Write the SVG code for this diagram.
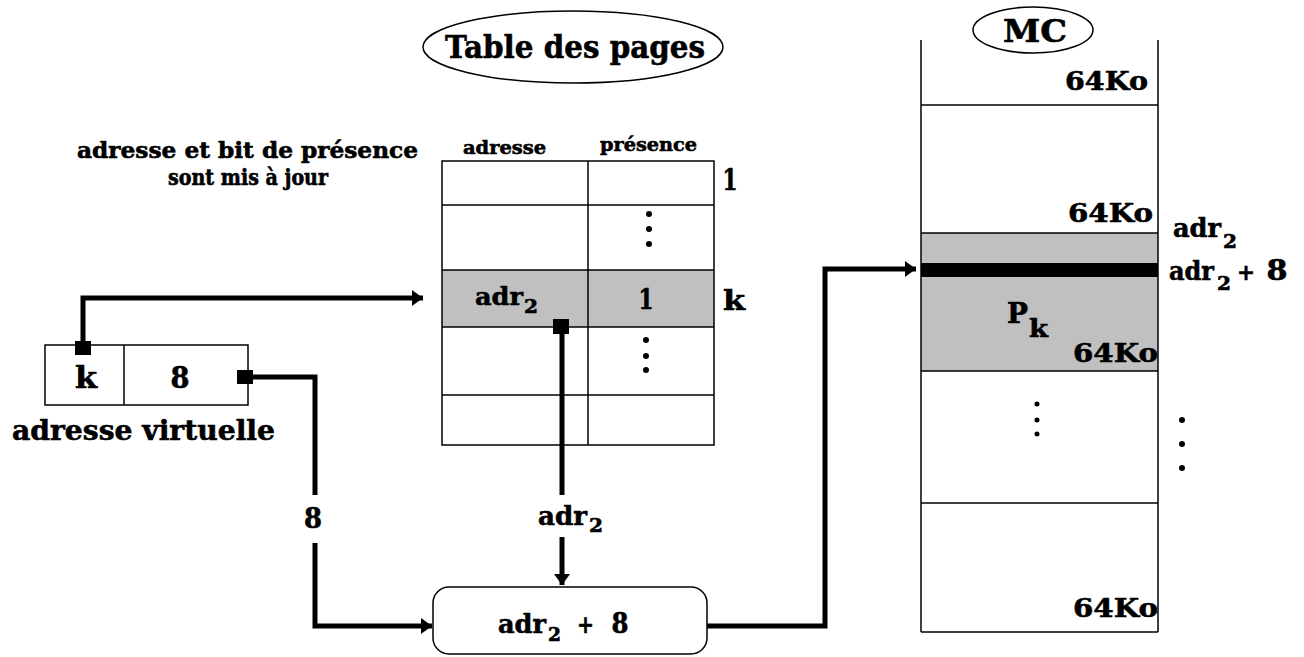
<svg xmlns="http://www.w3.org/2000/svg" width="1304" height="657" viewBox="0 0 1304 657">
<style>
text{font-family:"DejaVu Serif","Liberation Serif",serif;font-weight:bold;fill:#000;stroke:#000;stroke-width:0.6}
.thin{fill:none;stroke:#000;stroke-width:1.5}
.grey{fill:#c0c0c0}
.conn{fill:none;stroke:#000;stroke-width:5}
.dot{fill:#000}
</style>
<defs>
<marker id="arr" markerUnits="userSpaceOnUse" markerWidth="12" markerHeight="18" refX="11" refY="9" orient="auto">
<path d="M0,1 L11,9 L0,17 Z" fill="#000"/>
</marker>
</defs>
<rect width="1304" height="657" fill="#fff"/>

<g id="title-table">
<ellipse cx="573" cy="47" rx="150" ry="36" class="thin"/>
<text x="445" y="58" font-size="32" textLength="260" lengthAdjust="spacingAndGlyphs">Table des pages</text>
</g>

<g id="note">
<text x="77" y="158" font-size="22" textLength="341" lengthAdjust="spacingAndGlyphs">adresse et bit de présence</text>
<text x="168" y="185" font-size="22" textLength="160" lengthAdjust="spacingAndGlyphs">sont mis à jour</text>
</g>

<g id="page-table">
<text x="463" y="154" font-size="19" textLength="83" lengthAdjust="spacingAndGlyphs">adresse</text>
<text x="600" y="151" font-size="19" textLength="97" lengthAdjust="spacingAndGlyphs">présence</text>
<rect x="442" y="270" width="272" height="57" class="grey"/>
<rect x="442" y="161" width="272" height="284" class="thin"/>
<line x1="588" y1="161" x2="588" y2="445" class="thin"/>
<line x1="442" y1="205" x2="714" y2="205" class="thin"/>
<line x1="442" y1="270" x2="714" y2="270" class="thin"/>
<line x1="442" y1="327" x2="714" y2="327" class="thin"/>
<line x1="442" y1="395" x2="714" y2="395" class="thin"/>
<circle cx="649" cy="214" r="3" class="dot"/>
<circle cx="649" cy="229" r="3" class="dot"/>
<circle cx="649" cy="244" r="3" class="dot"/>
<circle cx="646" cy="340" r="3" class="dot"/>
<circle cx="646" cy="356" r="3" class="dot"/>
<circle cx="646" cy="370" r="3" class="dot"/>
<text x="475" y="305" font-size="25" textLength="48" lengthAdjust="spacingAndGlyphs">adr</text>
<text x="524" y="313" font-size="18" textLength="14" lengthAdjust="spacingAndGlyphs">2</text>
<text x="646" y="309" font-size="28" text-anchor="middle" textLength="15" lengthAdjust="spacingAndGlyphs">1</text>
<text x="730" y="190" font-size="29" text-anchor="middle" textLength="15" lengthAdjust="spacingAndGlyphs">1</text>
<text x="723" y="310" font-size="28" textLength="22" lengthAdjust="spacingAndGlyphs">k</text>
</g>

<g id="virtual-address">
<rect x="45" y="345" width="203" height="60" class="thin"/>
<line x1="124" y1="345" x2="124" y2="405" class="thin"/>
<text x="86" y="388" font-size="29" text-anchor="middle" textLength="22" lengthAdjust="spacingAndGlyphs">k</text>
<text x="180" y="388" font-size="29" text-anchor="middle" textLength="19" lengthAdjust="spacingAndGlyphs">8</text>
<text x="12" y="440" font-size="28" textLength="263" lengthAdjust="spacingAndGlyphs">adresse virtuelle</text>
</g>

<g id="adder">
<rect x="433" y="587" width="274" height="67" rx="16" class="thin"/>
<text x="498" y="633" font-size="26" textLength="48" lengthAdjust="spacingAndGlyphs">adr</text>
<text x="548" y="641" font-size="19" textLength="13" lengthAdjust="spacingAndGlyphs">2</text>
<text x="577" y="633" font-size="24" textLength="17" lengthAdjust="spacingAndGlyphs">+</text>
<text x="620" y="633" font-size="28" text-anchor="middle" textLength="17" lengthAdjust="spacingAndGlyphs">8</text>
</g>

<g id="memory">
<ellipse cx="1033" cy="30" rx="60" ry="23" class="thin"/>
<text x="1003" y="42" font-size="32" textLength="64" lengthAdjust="spacingAndGlyphs">MC</text>
<rect x="921" y="233" width="237" height="138" class="grey"/>
<rect x="921" y="263" width="237" height="14" fill="#000"/>
<line x1="921" y1="40" x2="921" y2="632" class="thin"/>
<line x1="1158" y1="40" x2="1158" y2="632" class="thin"/>
<line x1="921" y1="105" x2="1158" y2="105" class="thin"/>
<line x1="921" y1="233" x2="1158" y2="233" class="thin"/>
<line x1="921" y1="371" x2="1158" y2="371" class="thin"/>
<line x1="921" y1="503" x2="1158" y2="503" class="thin"/>
<line x1="921" y1="632" x2="1158" y2="632" class="thin"/>
<text x="1065" y="90" font-size="26" textLength="83" lengthAdjust="spacingAndGlyphs">64Ko</text>
<text x="1068" y="222" font-size="26" textLength="85" lengthAdjust="spacingAndGlyphs">64Ko</text>
<text x="1073" y="362" font-size="26" textLength="85" lengthAdjust="spacingAndGlyphs">64Ko</text>
<text x="1073" y="617" font-size="26" textLength="85" lengthAdjust="spacingAndGlyphs">64Ko</text>
<text x="1007" y="323" font-size="28" textLength="21" lengthAdjust="spacingAndGlyphs">P</text>
<text x="1029" y="337" font-size="25" textLength="19" lengthAdjust="spacingAndGlyphs">k</text>
<circle cx="1037" cy="404" r="2.5" class="dot"/>
<circle cx="1037" cy="420" r="2.5" class="dot"/>
<circle cx="1037" cy="434" r="2.5" class="dot"/>
<circle cx="1182" cy="420" r="3" class="dot"/>
<circle cx="1182" cy="444" r="3" class="dot"/>
<circle cx="1182" cy="468" r="3" class="dot"/>
<text x="1173" y="237" font-size="26" textLength="48" lengthAdjust="spacingAndGlyphs">adr</text>
<text x="1223" y="248" font-size="19" textLength="14" lengthAdjust="spacingAndGlyphs">2</text>
<text x="1169" y="280" font-size="26" textLength="45" lengthAdjust="spacingAndGlyphs">adr</text>
<text x="1217" y="290" font-size="19" textLength="14" lengthAdjust="spacingAndGlyphs">2</text>
<text x="1237" y="280" font-size="22" textLength="18" lengthAdjust="spacingAndGlyphs">+</text>
<text x="1277" y="280" font-size="27" text-anchor="middle" textLength="21" lengthAdjust="spacingAndGlyphs">8</text>
</g>

<g id="connectors">
<rect x="75" y="341" width="16" height="14" fill="#000"/>
<path d="M83,342 V298 H423" class="conn" marker-end="url(#arr)"/>
<rect x="237" y="370" width="16" height="14" fill="#000"/>
<path d="M250,377 H315 V495" class="conn"/>
<path d="M315,543 V626 H432" class="conn" marker-end="url(#arr)"/>
<text x="313" y="528" font-size="28" text-anchor="middle" textLength="18" lengthAdjust="spacingAndGlyphs">8</text>
<rect x="553" y="319" width="16" height="15" fill="#000"/>
<path d="M562,330 V495" class="conn"/>
<path d="M562,537 V585" class="conn" marker-end="url(#arr)"/>
<text x="538" y="525" font-size="26" textLength="49" lengthAdjust="spacingAndGlyphs">adr</text>
<text x="589" y="532" font-size="19" textLength="14" lengthAdjust="spacingAndGlyphs">2</text>
<path d="M707,626 H825 V269 H916" class="conn" marker-end="url(#arr)"/>
</g>
</svg>
